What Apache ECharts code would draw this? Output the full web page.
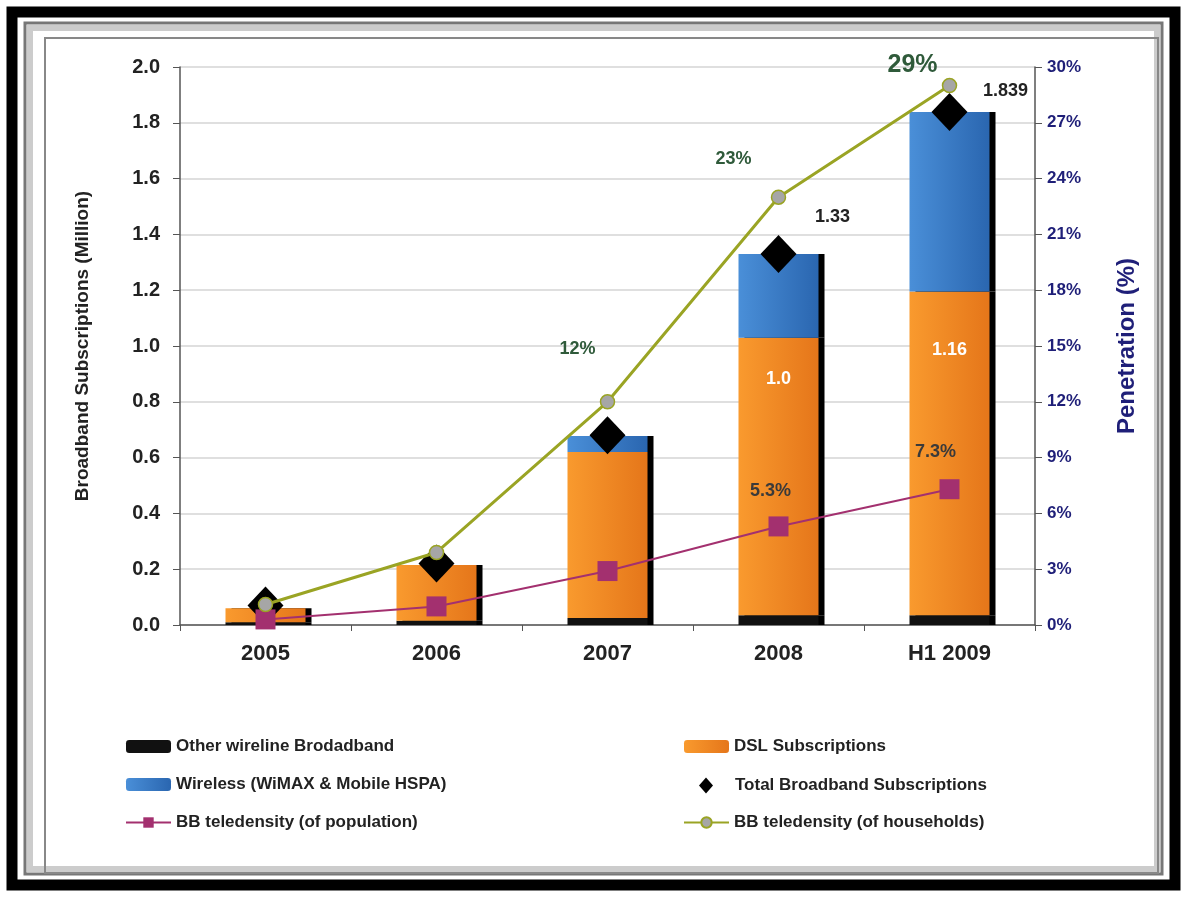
<!DOCTYPE html>
<html><head><meta charset="utf-8">
<script src="https://cdn.jsdelivr.net/npm/echarts@6/dist/echarts.min.js"></script>
<style>html,body{margin:0;padding:0;background:#fff}#c{width:1187px;height:899px}</style>
</head><body><div id="c"></div>
<script>
var categories = ['2005', '2006', '2007', '2008', 'H1 2009'];
var otherWireline = [0.01, 0.015, 0.025, 0.035, 0.035];
var dslSubs = [0.05, 0.2, 0.595, 0.995, 1.16];
var wirelessSubs = [0, 0, 0.057, 0.30, 0.644];
var totalSubs = [0.07, 0.22, 0.68, 1.33, 1.839];
var telePopulation = [0.3, 1.0, 2.9, 5.3, 7.3];
var teleHouseholds = [1.1, 3.9, 12, 23, 29];
var totalLabels = ['', '', '', '1.33', '1.839'];
var dslLabels = ['', '', '', '1.0', '1.16'];
var popLabels = ['', '', '', '5.3%', '7.3%'];
var hhLabels = ['', '', '12%', '23%', '29%'];
var leftTicks = ['0.0','0.2','0.4','0.6','0.8','1.0','1.2','1.4','1.6','1.8','2.0'];

var chart = echarts.init(document.getElementById('c'));
var font = 'Arial, "Liberation Sans", sans-serif';
var barShadow = {shadowColor: '#000', shadowOffsetX: 6, shadowOffsetY: 0, shadowBlur: 0};
function grad(c1, c2) {
  return new echarts.graphic.LinearGradient(0, 0, 1, 0, [{offset: 0, color: c1}, {offset: 1, color: c2}]);
}
var hhOffsets = [[0,0],[0,0],[-30,-31],[-45,-16],[-37,5]];
var popOffsets = [[0,0],[0,0],[0,0],[-8,-11],[-14,-13]];
var totOffsets = [[0,0],[0,0],[0,0],[54,-4],[56,12]];
var dslOffsets = [[0,0],[0,0],[0,0],[0,27],[0,44]];
var legendText = {fontFamily: font, fontWeight: 'bold', fontSize: 17, color: '#222'};

chart.setOption({
  animation: false,
  graphic: [
    {type: 'rect', shape: {x: 12, y: 12, width: 1163, height: 873}, style: {fill: 'none', stroke: '#000', lineWidth: 11}, silent: true},
    {type: 'rect', shape: {x: 25, y: 23, width: 1137, height: 851}, style: {fill: 'none', stroke: '#777', lineWidth: 3}, silent: true},
    {type: 'rect', shape: {x: 30, y: 28, width: 1127, height: 841}, style: {fill: 'none', stroke: '#ccc', lineWidth: 6}, silent: true},
    {type: 'rect', shape: {x: 45, y: 38, width: 1113, height: 835}, style: {fill: 'none', stroke: '#888', lineWidth: 2}, silent: true}
  ],
  grid: {left: 180, right: 152, top: 67, bottom: 274},
  legend: [
    {
      left: 120, top: 733, orient: 'vertical', itemGap: 21, itemWidth: 45, itemHeight: 13,
      textStyle: legendText,
      data: ['Other wireline Brodadband', 'Wireless (WiMAX & Mobile HSPA)', 'BB teledensity (of population)']
    },
    {
      left: 678, top: 733, orient: 'vertical', itemGap: 59, itemWidth: 45, itemHeight: 13,
      textStyle: legendText,
      data: ['DSL Subscriptions', 'BB teledensity (of households)']
    },
    {
      left: 694, top: 772, orient: 'vertical', itemWidth: 14, itemHeight: 16, itemGap: 10,
      textStyle: Object.assign({padding: [0, 0, 0, 17]}, legendText),
      data: [{name: 'Total Broadband Subscriptions', icon: 'diamond'}]
    }
  ],
  xAxis: {
    type: 'category', data: categories,
    axisLine: {lineStyle: {color: '#555', width: 1.5}},
    axisTick: {show: true, alignWithLabel: false, length: 6, lineStyle: {color: '#555'}},
    axisLabel: {fontFamily: font, fontWeight: 'bold', fontSize: 22, color: '#222', margin: 18}
  },
  yAxis: [
    {
      type: 'value', min: 0, max: 2, interval: 0.2,
      name: 'Broadband Subscriptions (Million)', nameLocation: 'middle', nameGap: 88, nameRotate: 90,
      nameTextStyle: {fontFamily: font, fontWeight: 'bold', fontSize: 19, color: '#222'},
      axisLine: {show: true, lineStyle: {color: '#555', width: 1.5}},
      axisTick: {show: true, length: 7, lineStyle: {color: '#555'}},
      splitLine: {lineStyle: {color: '#d4d4d4', width: 1.5}},
      axisLabel: {fontFamily: font, fontWeight: 'bold', fontSize: 20, color: '#222', margin: 20,
        formatter: function (v) { return leftTicks[Math.round(v / 0.2)]; }}
    },
    {
      type: 'value', min: 0, max: 30, interval: 3, position: 'right',
      name: 'Penetration (%)', nameLocation: 'middle', nameGap: 80, nameRotate: 90,
      nameTextStyle: {fontFamily: font, fontWeight: 'bold', fontSize: 24, color: '#1f1f78'},
      axisLine: {show: true, lineStyle: {color: '#555', width: 1.5}},
      axisTick: {show: true, length: 7, lineStyle: {color: '#555'}},
      splitLine: {show: false},
      axisLabel: {fontFamily: font, fontWeight: 'bold', fontSize: 17, color: '#1f1f78', margin: 12,
        formatter: '{value}%'}
    }
  ],
  series: [
    {
      name: 'Other wireline Brodadband', type: 'bar', stack: 'bb', barWidth: 80,
      itemStyle: Object.assign({color: '#111'}, barShadow),
      data: otherWireline
    },
    {
      name: 'DSL Subscriptions', type: 'bar', stack: 'bb',
      itemStyle: Object.assign({color: grad('#f99a2e', '#e5761a')}, barShadow),
      data: dslSubs.map(function (v, i) {
        return {value: v, label: {show: dslLabels[i] !== '', formatter: dslLabels[i], position: 'insideTop',
          offset: dslOffsets[i], color: '#fff', fontFamily: font, fontWeight: 'bold', fontSize: 18}};
      })
    },
    {
      name: 'Wireless (WiMAX & Mobile HSPA)', type: 'bar', stack: 'bb',
      itemStyle: Object.assign({color: grad('#4a8fd8', '#2a66b0')}, barShadow),
      data: wirelessSubs
    },
    {
      name: 'Total Broadband Subscriptions', type: 'scatter', symbol: 'diamond', symbolSize: [36, 38],
      itemStyle: {color: '#000', opacity: 1}, z: 5,
      data: totalSubs.map(function (v, i) {
        return {value: v, label: {show: totalLabels[i] !== '', formatter: totalLabels[i], position: 'top',
          offset: totOffsets[i], color: '#222', fontFamily: font, fontWeight: 'bold', fontSize: 18}};
      })
    },
    {
      name: 'BB teledensity (of population)', type: 'line', yAxisIndex: 1, symbol: 'rect', symbolSize: 20,
      lineStyle: {color: '#a3306f', width: 2}, itemStyle: {color: '#a3306f'}, z: 6,
      data: telePopulation.map(function (v, i) {
        return {value: v, label: {show: popLabels[i] !== '', formatter: popLabels[i], position: 'top',
          offset: popOffsets[i], color: '#3a3a3a', fontFamily: font, fontWeight: 'bold', fontSize: 18}};
      })
    },
    {
      name: 'BB teledensity (of households)', type: 'line', yAxisIndex: 1, symbol: 'circle', symbolSize: 14,
      lineStyle: {color: '#9aa424', width: 3}, itemStyle: {color: '#a6a6a6', borderColor: '#9aa424', borderWidth: 1.5}, z: 7,
      data: teleHouseholds.map(function (v, i) {
        return {value: v, label: {show: hhLabels[i] !== '', formatter: hhLabels[i], position: 'top',
          offset: hhOffsets[i], color: '#2f5a3a', fontFamily: font, fontWeight: 'bold', fontSize: i === 4 ? 25 : 18}};
      })
    }
  ]
});
</script></body></html>
